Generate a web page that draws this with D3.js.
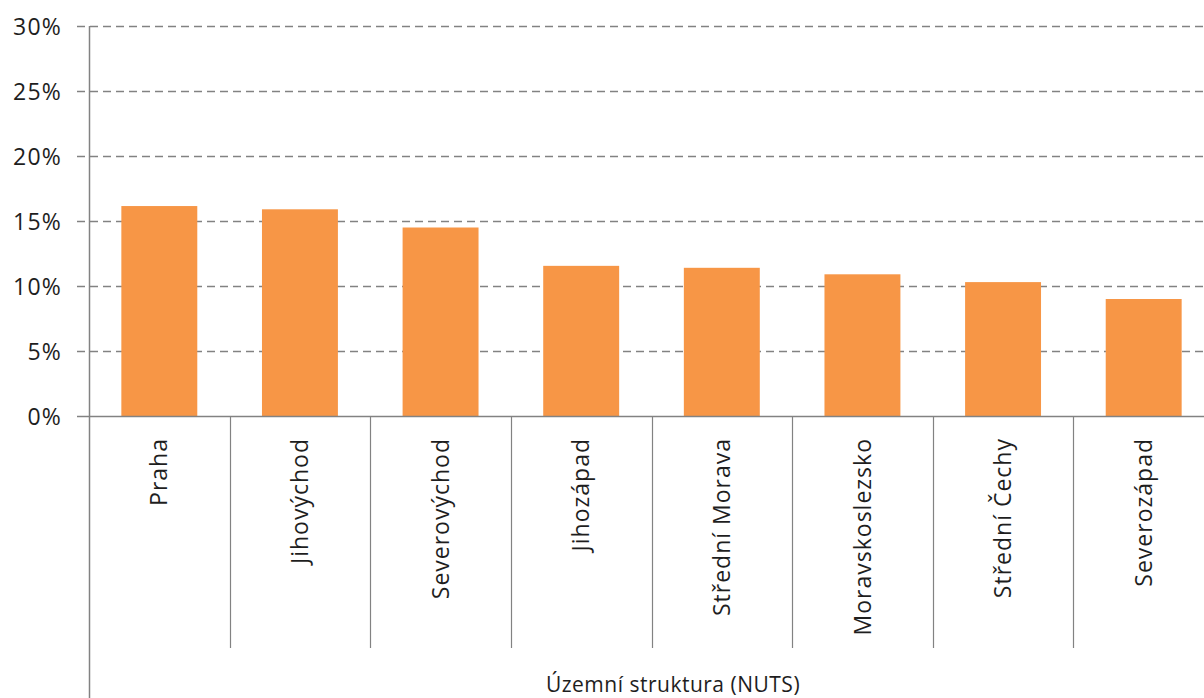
<!DOCTYPE html>
<html>
<head>
<meta charset="utf-8">
<script src="https://cdn.jsdelivr.net/npm/d3@7"></script>
<style>
  html, body { margin: 0; padding: 0; background: #fff; }
  svg { display: block; }
  text { font-family: "Open Sans", "DejaVu Sans", sans-serif; fill: #1e1e1e; }
</style>
</head>
<body>
<svg id="chart" width="1204" height="698"></svg>
<script>
// Podíl podle regionů soudržnosti (NUTS 2)
const regions = ["Praha", "Jihovýchod", "Severovýchod", "Jihozápad",
                 "Střední Morava", "Moravskoslezsko", "Střední Čechy", "Severozápad"];
const shares = [0.1615, 0.159, 0.145, 0.1155, 0.114, 0.109, 0.103, 0.090];
const yTicks = [0, 0.05, 0.10, 0.15, 0.20, 0.25, 0.30];
const axisTitle = "Územní struktura (NUTS)";

const svg = d3.select("#chart");
const W = 1204, H = 698;
const plotLeft = 89, plotRight = 1214, plotTop = 26, plotBase = 416;

const x = d3.scaleBand().domain(regions).range([plotLeft, plotRight])
  .paddingInner(0.46).paddingOuter(0.23);
const y = d3.scaleLinear().domain([0, 0.30]).range([plotBase, plotTop]);

const grey = "#828282";

// dashed gridlines (extend left as outside tick marks)
svg.append("g").selectAll("line").data(yTicks.filter(d => d > 0)).join("line")
  .attr("x1", plotLeft - 12).attr("x2", W)
  .attr("y1", d => Math.round(y(d)) + 0.5).attr("y2", d => Math.round(y(d)) + 0.5)
  .attr("stroke", grey).attr("stroke-width", 1.5)
  .attr("stroke-dasharray", "8,5");

// bars
svg.append("g").selectAll("rect").data(regions).join("rect")
  .attr("x", d => x(d)).attr("width", x.bandwidth())
  .attr("y", (d, i) => y(shares[i]))
  .attr("height", (d, i) => plotBase - y(shares[i]))
  .attr("fill", "#F79646");

// y axis labels
const yAxis = d3.axisLeft(y).tickValues(yTicks).tickFormat(d3.format(".0%"))
  .tickSize(0).tickPadding(27);
const gy = svg.append("g").attr("transform", `translate(${plotLeft},0)`).call(yAxis);
gy.select(".domain").remove();
gy.selectAll("text").style("font-size", "23px").style("letter-spacing", "1.2px")
  .attr("dy", "0.35em").attr("fill", "#1e1e1e");

// axis lines
svg.append("line").attr("x1", plotLeft + 0.5).attr("x2", plotLeft + 0.5)
  .attr("y1", plotTop).attr("y2", H).attr("stroke", grey).attr("stroke-width", 1.5);
svg.append("line").attr("x1", plotLeft - 12).attr("x2", W)
  .attr("y1", plotBase + 0.5).attr("y2", plotBase + 0.5).attr("stroke", grey).attr("stroke-width", 1.5);

// category separators
const half = x.step() * x.paddingInner() / 2;
svg.append("g").selectAll("line").data(regions.slice(1)).join("line")
  .attr("x1", d => Math.round(x(d) - half) + 0.5).attr("x2", d => Math.round(x(d) - half) + 0.5)
  .attr("y1", plotBase).attr("y2", 648)
  .attr("stroke", grey).attr("stroke-width", 1.2);

// category labels, rotated
const xAxis = d3.axisBottom(x).tickSize(0).tickPadding(0);
const gx = svg.append("g").attr("transform", `translate(0,${plotBase})`).call(xAxis);
gx.select(".domain").remove();
gx.selectAll("text")
  .style("font-size", "23px").style("letter-spacing", "1px")
  .attr("fill", "#1e1e1e")
  .attr("text-anchor", "end")
  .attr("transform", "rotate(-90)")
  .attr("x", -22).attr("y", 0).attr("dy", "0.35em");

// axis title
svg.append("text").attr("x", 673).attr("y", 692).attr("text-anchor", "middle")
  .style("font-size", "21px").style("letter-spacing", "0.5px")
  .text(axisTitle);
</script>
</body>
</html>
